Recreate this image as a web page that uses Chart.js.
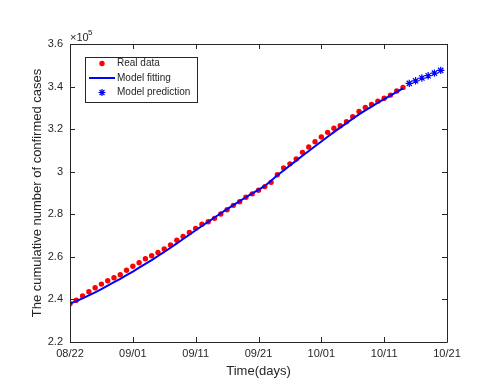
<!DOCTYPE html>
<html>
<head>
<meta charset="utf-8">
<script src="https://cdn.jsdelivr.net/npm/chart.js@4.4.1/dist/chart.umd.min.js"></script>
<style>
  html, body { margin: 0; padding: 0; background: #fff; }
  #wrap { width: 493px; height: 381px; }
</style>
</head>
<body>
<div id="wrap"><canvas id="chart" width="493" height="381"></canvas></div>
<script>
// x axis: days since 08/22, labels every 10 days
const xTickLabels = ['08/22', '09/01', '09/11', '09/21', '10/01', '10/11', '10/21'];
const realStartDay = 0;
const predStartDay = 54;

// values in units of 10^5 cases
const realData = [
  2.380, 2.396, 2.416, 2.436, 2.455, 2.472, 2.488, 2.502, 2.516, 2.537,
  2.556, 2.572, 2.591, 2.605, 2.621, 2.637, 2.656, 2.678, 2.696, 2.715,
  2.734, 2.753, 2.765, 2.781, 2.801, 2.821, 2.842, 2.859, 2.880, 2.896,
  2.913, 2.930, 2.950, 2.986, 3.018, 3.037, 3.060, 3.091, 3.116, 3.141,
  3.163, 3.185, 3.204, 3.216, 3.235, 3.258, 3.283, 3.302, 3.316, 3.331,
  3.345, 3.360, 3.379, 3.396
];
const fitData = [
  2.380, 2.392, 2.405, 2.419, 2.433, 2.448, 2.465, 2.481, 2.497, 2.514,
  2.531, 2.549, 2.567, 2.585, 2.604, 2.623, 2.643, 2.663, 2.684, 2.704,
  2.725, 2.745, 2.765, 2.785, 2.805, 2.824, 2.843, 2.862, 2.880, 2.898,
  2.915, 2.933, 2.958, 2.983, 3.006, 3.029, 3.052, 3.075, 3.097, 3.120,
  3.142, 3.164, 3.186, 3.207, 3.228, 3.249, 3.269, 3.288, 3.306, 3.324,
  3.341, 3.358, 3.375, 3.392
];
const predData = [3.415, 3.427, 3.440, 3.451, 3.463, 3.476];

const FONT = "'Liberation Sans', Arial, Helvetica, sans-serif";
const AXIS = '#262626';

const toPoints = (arr, start) => arr.map((v, i) => ({ x: start + i, y: v }));

// box, inward ticks, exponent label and legend
const matlabAxes = {
  id: 'matlabAxes',
  afterDraw(chart) {
    const { ctx, chartArea: a, scales: { x, y } } = chart;
    const tl = 5;
    ctx.save();
    ctx.strokeStyle = AXIS;
    ctx.lineWidth = 1;
    ctx.beginPath();
    ctx.rect(Math.round(a.left) + 0.5, Math.round(a.top) + 0.5,
             Math.round(a.right - a.left), Math.round(a.bottom - a.top));
    x.ticks.forEach(t => {
      const px = Math.round(x.getPixelForValue(t.value)) + 0.5;
      ctx.moveTo(px, a.bottom); ctx.lineTo(px, a.bottom - tl);
      ctx.moveTo(px, a.top); ctx.lineTo(px, a.top + tl);
    });
    y.ticks.forEach(t => {
      const py = Math.round(y.getPixelForValue(t.value)) + 0.5;
      ctx.moveTo(a.left, py); ctx.lineTo(a.left + tl, py);
      ctx.moveTo(a.right, py); ctx.lineTo(a.right - tl, py);
    });
    ctx.stroke();

    // x10^5
    ctx.fillStyle = AXIS;
    ctx.font = `11px ${FONT}`;
    ctx.textBaseline = 'alphabetic';
    ctx.textAlign = 'left';
    ctx.fillText('\u00d710', a.left, a.top - 3);
    ctx.font = `8px ${FONT}`;
    ctx.fillText('5', a.left + 18, a.top - 9);

    // legend
    const lx = 85, ly = 57, lw = 112, lh = 45;
    ctx.fillStyle = '#fff';
    ctx.fillRect(lx, ly, lw, lh);
    ctx.strokeStyle = AXIS;
    ctx.strokeRect(lx + 0.5, ly + 0.5, lw, lh);
    const ds = chart.data.datasets;
    ctx.font = `10px ${FONT}`;
    ctx.textBaseline = 'middle';
    ds.forEach((d, i) => {
      const cy = ly + 6 + i * 14.5 + 0.5;
      ctx.fillStyle = AXIS;
      ctx.fillText(d.label, 117, cy);
      if (d.showLine) {
        ctx.strokeStyle = d.borderColor;
        ctx.lineWidth = 2;
        ctx.beginPath(); ctx.moveTo(89, cy); ctx.lineTo(115, cy); ctx.stroke();
      } else if (d.pointStyle === 'star') {
        ctx.strokeStyle = d.borderColor;
        ctx.lineWidth = 1.2;
        const r = 3.5;
        ctx.beginPath();
        for (let k = 0; k < 4; k++) {
          const ang = k * Math.PI / 4;
          ctx.moveTo(102 - r * Math.cos(ang), cy - r * Math.sin(ang));
          ctx.lineTo(102 + r * Math.cos(ang), cy + r * Math.sin(ang));
        }
        ctx.stroke();
      } else {
        ctx.fillStyle = d.backgroundColor;
        ctx.beginPath(); ctx.arc(102, cy, 2.7, 0, Math.PI * 2); ctx.fill();
      }
    });
    ctx.restore();
  }
};

new Chart(document.getElementById('chart'), {
  type: 'scatter',
  data: {
    datasets: [
      {
        label: 'Real data',
        data: toPoints(realData, realStartDay),
        backgroundColor: '#ff0000',
        borderColor: '#ff0000',
        pointRadius: 2.7,
        pointBorderWidth: 0,
        showLine: false,
        order: 2
      },
      {
        label: 'Model fitting',
        data: toPoints(fitData, realStartDay),
        borderColor: '#0000ff',
        backgroundColor: '#0000ff',
        borderWidth: 2,
        pointRadius: 0,
        showLine: true,
        tension: 0,
        order: 1
      },
      {
        label: 'Model prediction',
        data: toPoints(predData, predStartDay),
        borderColor: '#0000ff',
        backgroundColor: '#0000ff',
        pointStyle: 'star',
        pointRadius: 3.7,
        pointBorderWidth: 1.2,
        showLine: false,
        order: 0
      }
    ]
  },
  options: {
    responsive: false,
    animation: false,
    layout: { padding: { top: 44, right: 46, left: 0, bottom: 0 } },
    plugins: { legend: { display: false }, tooltip: { enabled: false } },
    scales: {
      x: {
        type: 'linear',
        min: 0, max: 60,
        afterFit: s => { s.height = 39; },
        grid: { display: false, drawTicks: false },
        border: { display: false },
        ticks: {
          stepSize: 10,
          padding: 5,
          color: AXIS,
          font: { family: FONT, size: 11 },
          maxRotation: 0,
          callback: (v) => xTickLabels[Math.round(v / 10)]
        },
        title: {
          display: true,
          text: 'Time(days)',
          color: AXIS,
          font: { family: FONT, size: 13 },
          padding: { top: 0, bottom: 2 }
        }
      },
      y: {
        min: 2.2, max: 3.6,
        afterFit: s => { s.width = 70; },
        grid: { display: false, drawTicks: false },
        border: { display: false },
        ticks: {
          stepSize: 0.2,
          padding: 7,
          color: AXIS,
          font: { family: FONT, size: 11 },
          callback: (v) => String(Number(v.toFixed(1)))
        },
        title: {
          display: true,
          text: 'The cumulative number of confirmed cases',
          color: AXIS,
          font: { family: FONT, size: 13 },
          padding: { top: 30, bottom: 0 }
        }
      }
    }
  },
  plugins: [matlabAxes]
});
</script>
</body>
</html>
